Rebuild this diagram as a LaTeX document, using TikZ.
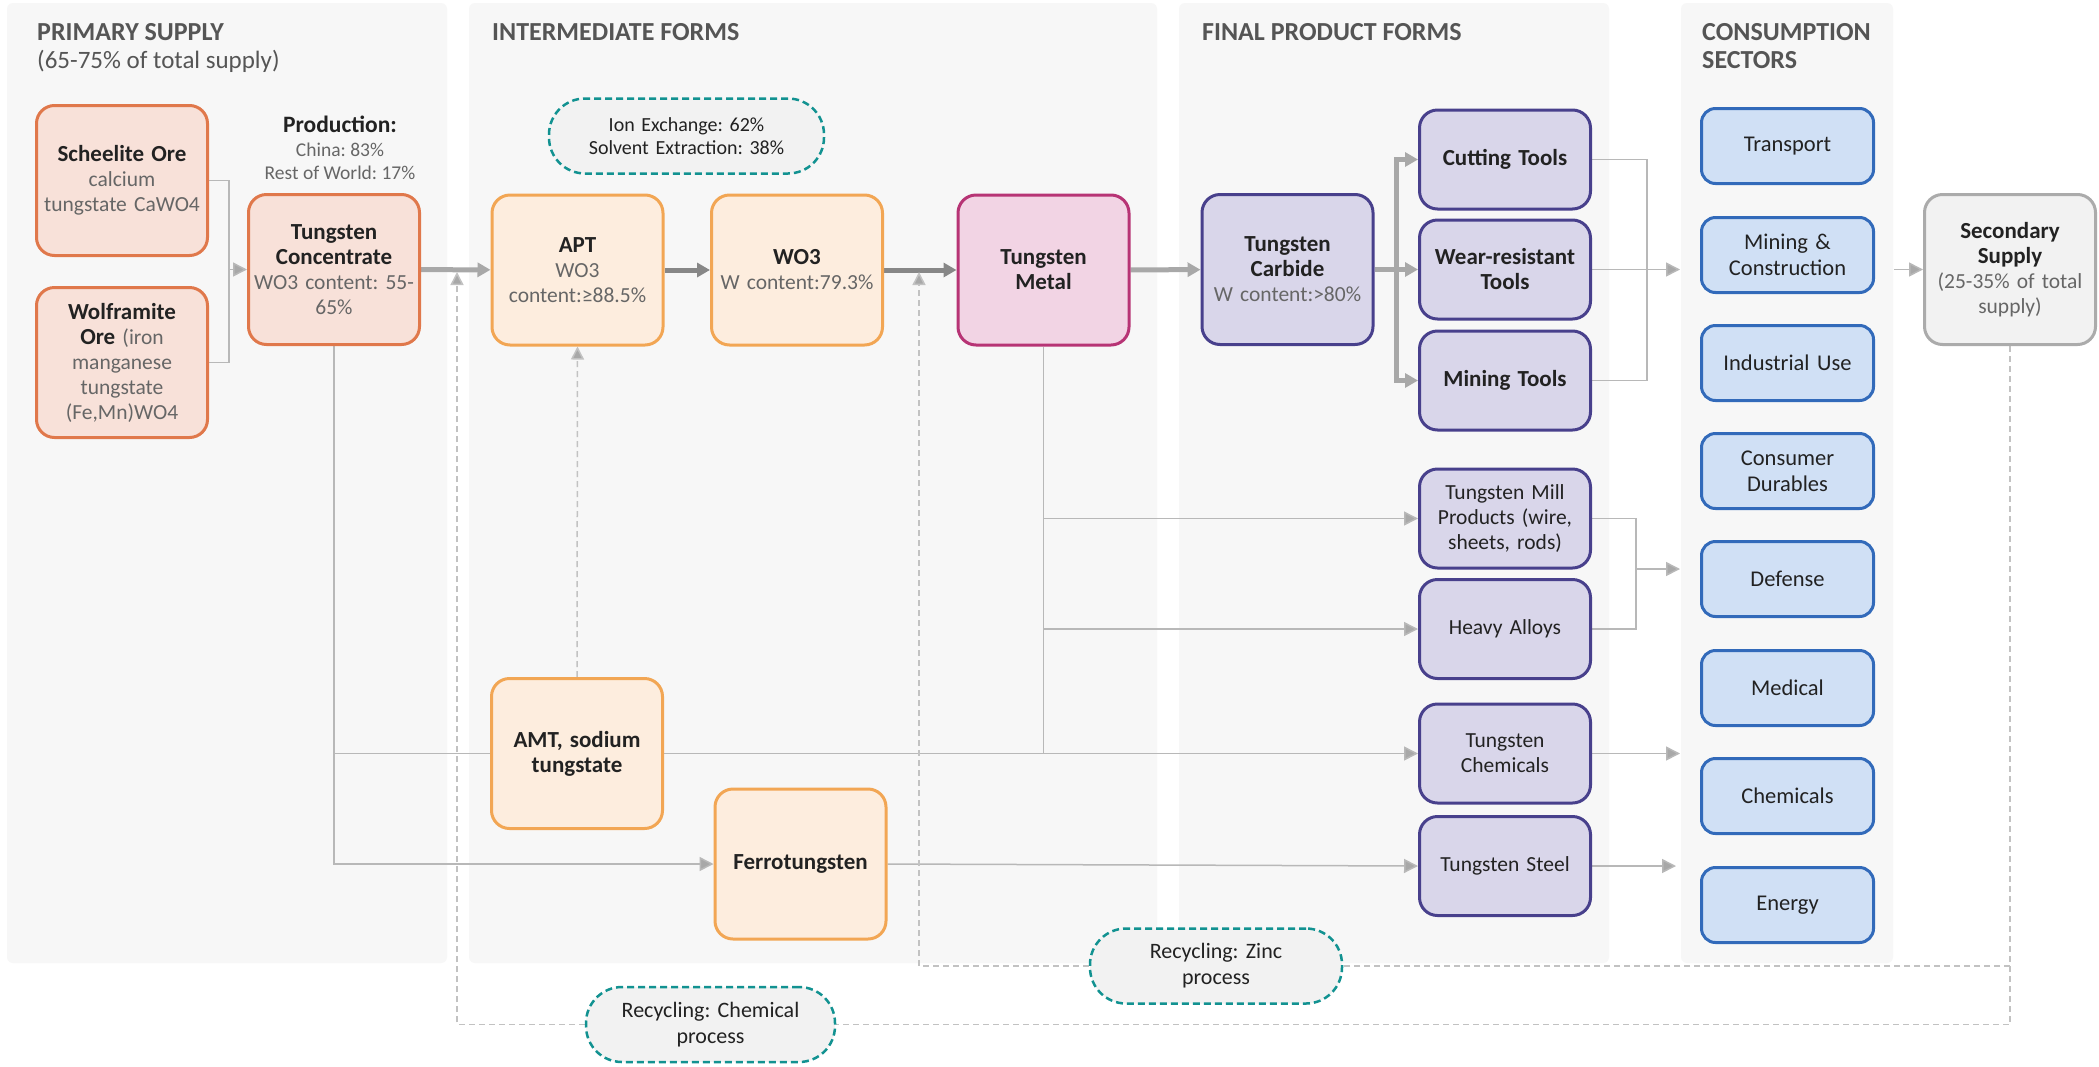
\documentclass[tikz,border=0pt]{standalone}
\usepackage{fontspec}
\setmainfont{Carlito}
\usepackage{tikz}
\usetikzlibrary{arrows.meta}
\usetikzlibrary{calc}

\definecolor{panelbg}{HTML}{F7F7F7}
\definecolor{ink}{HTML}{222222}
\definecolor{subgray}{HTML}{666666}
\definecolor{hdrgray}{HTML}{555555}
\definecolor{orefill}{HTML}{F8E1D9}
\definecolor{oreline}{HTML}{E0784B}
\definecolor{interfill}{HTML}{FDEDDE}
\definecolor{interline}{HTML}{F2A654}
\definecolor{metalfill}{HTML}{F2D4E4}
\definecolor{metalline}{HTML}{B73475}
\definecolor{finalfill}{HTML}{D9D6EA}
\definecolor{finalline}{HTML}{48408C}
\definecolor{secfill}{HTML}{D0E0F5}
\definecolor{secline}{HTML}{326ABA}
\definecolor{recfill}{HTML}{F2F2F2}
\definecolor{recline}{HTML}{ABABAB}
\definecolor{teal}{HTML}{129291}
\definecolor{flowlight}{HTML}{A8A8A8}
\definecolor{flowdark}{HTML}{878787}
\definecolor{linkgray}{HTML}{B8B8B8}
\definecolor{dashgray}{HTML}{C2C2C2}

\newcommand{\subtxt}[1]{{\color{subgray}#1}}
\newcommand{\ttl}[1]{{\bfseries\fontsize{23}{25}\selectfont #1}}

\pgfdeclarelayer{panels}
\pgfdeclarelayer{links}
\pgfsetlayers{panels,links,main}

\tikzset{
  box/.style={draw, rounded corners=18pt, line width=3pt, minimum width=171pt,
    minimum height=150pt, text width=167pt, align=center, inner sep=2pt,
    text=ink, font=\frenchspacing\fontsize{21.5}{25}\selectfont},
  ore/.style={box, fill=orefill, draw=oreline},
  inter/.style={box, fill=interfill, draw=interline},
  metalbox/.style={box, fill=metalfill, draw=metalline},
  final/.style={box, fill=finalfill, draw=finalline, minimum height=99pt},
  sector/.style={box, fill=secfill, draw=secline, minimum height=75pt,
    minimum width=172pt, rounded corners=14pt,
    font=\frenchspacing\fontsize{22.5}{26}\selectfont},
  secbox/.style={box, fill=recfill, draw=recline},
  pill/.style={draw=teal, fill=recfill, rounded corners=36pt, line width=2.5pt,
    dash pattern=on 7pt off 4pt, minimum height=75pt, text width=230pt,
    inner sep=0pt, align=center, text=ink,
    font=\frenchspacing\fontsize{22}{26}\selectfont},
  hdr/.style={anchor=base west, inner sep=0pt, text=hdrgray,
    font=\bfseries\fontsize{26}{30}\selectfont},
  hdrsub/.style={anchor=base west, inner sep=0pt, text=hdrgray,
    font=\fontsize{25}{28}\selectfont},
  flow/.style={line width=5pt, draw=flowlight,
    -{Triangle[length=13pt, width=14pt]}},
  link/.style={line width=1.5pt, draw=linkgray},
  linkarrow/.style={link, -{Triangle[length=14pt, width=14pt, fill=flowlight]}},
  recycle/.style={line width=1.5pt, draw=dashgray, dash pattern=on 6pt off 4pt},
  recyclearrow/.style={recycle, -{Triangle[length=13pt, width=13pt, fill=flowlight]}}
}

\begin{document}
\begin{tikzpicture}[x=1pt, y=-1pt]
  \useasboundingbox (0,0) rectangle (2099,1066);
  \begin{pgfonlayer}{panels}
    \fill[white] (0,0) rectangle (2099,1066);
    \foreach \xa/\xb in {7/447, 469/1157, 1179/1609, 1681/1893}
      \fill[panelbg, rounded corners=6pt] (\xa,3) rectangle (\xb,963);
  \end{pgfonlayer}

  % column headings
  \node[hdr] (hprimary) at (37,40) {PRIMARY SUPPLY};
  \node[hdrsub] (hprimarysub) at (37,68) {(65-75\% of total supply)};
  \node[hdr] (hinter) at (492,40) {INTERMEDIATE FORMS};
  \node[hdr] (hfinal) at (1202,40) {FINAL PRODUCT FORMS};
  \node[hdr] (hcons) at (1702,40) {CONSUMPTION};
  \node[hdr] (hconssub) at (1702,68) {SECTORS};

  % primary supply
  \node[ore] (scheelite) at (122,180.5) {\ttl{Scheelite Ore}\\\subtxt{calcium\\tungstate CaWO4}};
  \node[ore] (wolframite) at (122,362.5) {\ttl{Wolframite}\\\ttl{Ore} \subtxt{(iron\\manganese\\tungstate\\(Fe,Mn)WO4}};
  \node[ore] (conc) at (334,269.5) {\ttl{Tungsten}\\\ttl{Concentrate}\\\subtxt{WO3 content: 55-\\65\%}};
  \node[align=center, text=ink, font=\frenchspacing\fontsize{19.5}{23.5}\selectfont] (prod) at (340,148)
    {{\bfseries\fontsize{23.5}{24}\selectfont Production:}\\\subtxt{China: 83\%}\\\subtxt{Rest of World: 17\%}};

  % intermediate forms
  \node[pill, minimum width=275pt, font=\frenchspacing\fontsize{20}{23.5}\selectfont] (ionpill) at (686.5,136)
    {Ion Exchange: 62\%\\Solvent Extraction: 38\%};
  \node[inter] (apt) at (577.5,270) {\ttl{APT}\\\subtxt{WO3\\content:≥88.5\%}};
  \node[inter] (wo3) at (797,270) {\ttl{WO3}\\\subtxt{W content:79.3\%}};
  \node[metalbox] (metal) at (1043.5,270) {\ttl{Tungsten}\\\ttl{Metal}};
  \node[inter] (amt) at (577,753.5) {\ttl{AMT, sodium}\\\ttl{tungstate}};
  \node[inter] (ferro) at (800.5,864) {\ttl{Ferrotungsten}};

  % final product forms
  \node[final, minimum height=150pt] (carbide) at (1287.5,269.5)
    {\ttl{Tungsten}\\\ttl{Carbide}\\\subtxt{W content:>80\%}};
  \node[final] (cutting) at (1505,159.5) {\ttl{Cutting Tools}};
  \node[final] (wear) at (1505,269.5) {\ttl{Wear-resistant}\\\ttl{Tools}};
  \node[final] (miningtools) at (1505,380.5) {\ttl{Mining Tools}};
  \node[final] (mill) at (1505,518.5) {Tungsten Mill\\Products (wire,\\sheets, rods)};
  \node[final] (heavy) at (1505,629) {Heavy Alloys};
  \node[final] (chem) at (1505,753.5) {Tungsten\\Chemicals};
  \node[final] (steel) at (1505,866) {Tungsten Steel};

  % consumption sectors
  \foreach \name/\y/\txt in {transport/146/Transport, mincon/255/{Mining \&\\Construction},
      industrial/363/Industrial Use, durables/471/{Consumer\\Durables}, defense/579/Defense,
      medical/688/Medical, chemicals/796/Chemicals, energy/905/Energy}
    \node[sector] (\name) at (1787.5,\y) {\txt};

  \node[secbox] (secondary) at (2010,269.5) {\ttl{Secondary}\\\ttl{Supply}\\\subtxt{(25-35\% of total\\supply)}};

  % recycling labels
  \node[pill, minimum width=252pt] (zincpill) at (1216,966) {Recycling: Zinc\\process};
  \node[pill, minimum width=249pt] (chempill) at (710.5,1024.5) {Recycling: Chemical\\process};

  \coordinate (orejoin) at (229,269.5);
  \coordinate (toolsplit) at ($(carbide.east)!.5!(wear.west)$);
  \coordinate (toolsjoin) at (1647,269.5);
  \coordinate (toolsend) at (1680,269.5);
  \coordinate (milljoin) at (1636,569);
  \coordinate (millend) at (1680,569);
  \coordinate (chemend) at (1680,753.5);
  \coordinate (steelend) at (1676,866);
  \coordinate (secstart) at (1894,269.5);
  \coordinate (chemtip) at (457,272);
  \coordinate (zinctip) at (919,272);

  \begin{pgfonlayer}{links}
    % main processing chain
    \draw[flow] (conc) -- (apt);
    \draw[flow, draw=flowdark] (apt) -- (wo3);
    \draw[flow, draw=flowdark] (wo3) -- (metal);
    \draw[flow] (metal) -- (carbide);
    \draw[flow] (carbide.east) -- (wear.west);
    \draw[flow] (toolsplit) |- (cutting.west);
    \draw[flow] (toolsplit) |- (miningtools.west);

    \draw[link] (scheelite.east) -| (orejoin) |- (wolframite.east);
    \draw[linkarrow] (orejoin) -- (conc.west);

    \draw[linkarrow] (conc.south) |- (ferro.west);
    \draw[linkarrow] (conc.south |- chem.west) -- (chem.west);
    \draw[link] (metal.south) -- (metal.south |- chem.west);
    \draw[linkarrow] (metal.south |- mill.west) -- (mill.west);
    \draw[linkarrow] (metal.south |- heavy.west) -- (heavy.west);
    \draw[linkarrow] (ferro.east) -- (steel.west);

    \draw[link] (cutting.east) -| (toolsjoin) |- (miningtools.east);
    \draw[link] (wear.east) -- (toolsjoin);
    \draw[linkarrow] (toolsjoin) -- (toolsend);
    \draw[link] (mill.east) -| (milljoin) |- (heavy.east);
    \draw[linkarrow] (milljoin) -- (millend);
    \draw[linkarrow] (chem.east) -- (chemend);
    \draw[linkarrow] (steel.east) -- (steelend);
    \draw[linkarrow] (secstart) -- (secondary.west);

    % recycling loops
    \draw[recyclearrow] (amt.north) -- (apt.south);
    \draw[recycle] (secondary.south) |- (chempill.east);
    \draw[recycle] (secondary.south |- zincpill.east) -- (zincpill.east);
    \draw[recyclearrow] (chempill.west) -| (chemtip);
    \draw[recyclearrow] (zincpill.west) -| (zinctip);
  \end{pgfonlayer}
\end{tikzpicture}
\end{document}
